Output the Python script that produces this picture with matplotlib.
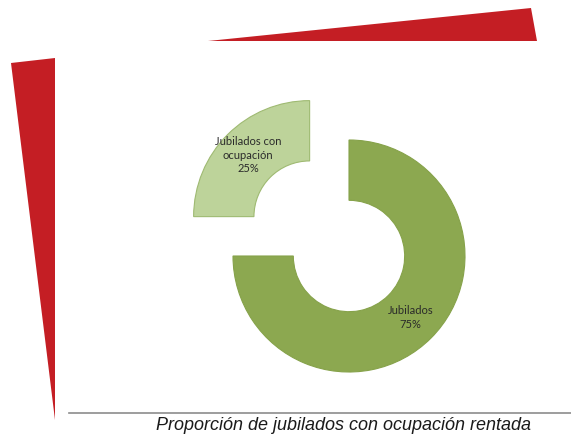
import matplotlib.pyplot as plt
from matplotlib.patches import Polygon

# data
labels = ["Jubilados", "Jubilados con\nocupación"]
values = [75, 25]
colors = ["#8CA850", "#BDD39A"]
edges = ["#86A24A", "#9FBA72"]
caption = "Proporción de jubilados con ocupación rentada"

W, H = 571, 437
fig = plt.figure(figsize=(W / 100, H / 100), dpi=100)

# background axes in pixel coordinates for decorations
bg = fig.add_axes([0, 0, 1, 1])
bg.set_xlim(0, W)
bg.set_ylim(H, 0)
bg.axis("off")
bg.add_patch(Polygon([(208, 41), (531, 8), (537, 41)], closed=True,
                     color="#C41E24", lw=0))
bg.add_patch(Polygon([(11, 63), (55, 58), (55, 420)], closed=True,
                     color="#C41E24", lw=0))
bg.plot([69, W], [413, 413], color="#8C8C8C", lw=1.2)
bg.text(343, 426, caption, ha="center", va="center", fontsize=13,
        style="italic", family="Liberation Sans", color="#1A1A1A")

# donut: center (349, 256) px, radius 116 px
cx, cy, R = 349, 256, 116
ax = fig.add_axes([0, 0, 1, 1])
ax.patch.set_alpha(0)
wedges, texts = ax.pie(values, startangle=90, counterclock=False,
                       colors=colors, explode=[0, 0.48], radius=1,
                       labels=[f"{l}\n{v}%" for l, v in zip(labels, values)],
                       labeldistance=0.75,
                       wedgeprops=dict(width=0.52, linewidth=0.8),
                       textprops=dict(fontsize=8, family="Lato",
                                      color="#2A2A2A", linespacing=1.3))
for w, e in zip(wedges, edges):
    w.set_edgecolor(e)
for t in texts:
    t.set_ha("center")
    t.set_va("center")
ax.set_aspect("auto")
ax.set_xlim(-cx / R, (W - cx) / R)
ax.set_ylim(-(H - cy) / R, cy / R)
ax.axis("off")

fig.savefig("out.png", dpi=100)
